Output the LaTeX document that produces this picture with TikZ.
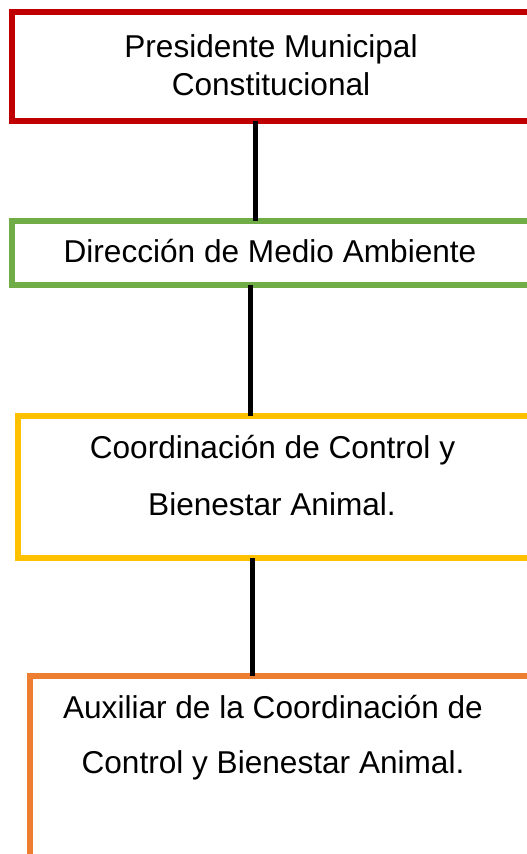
\documentclass[tikz,border=0pt]{standalone}
\usepackage{fontspec}
\setmainfont{Liberation Sans}
\definecolor{cred}{HTML}{C00000}
\definecolor{cgreen}{HTML}{70AD47}
\definecolor{cyellow}{HTML}{FFC000}
\definecolor{corange}{HTML}{ED7D31}
\begin{document}
\begin{tikzpicture}[x=1pt,y=-1pt,
  boxnode/.style={draw, rectangle, line width=6pt, fill=white, inner sep=0pt, outer sep=0pt},
  txt/.style={anchor=base, inner sep=0pt, font=\fontsize{31.6}{38}\selectfont},
  conn/.style={line width=5pt, black}]
\useasboundingbox (0,0) rectangle (527,854);
\clip (0,0) rectangle (527,854);
\fill[white] (0,0) rectangle (527,854);
% boxes
\node[boxnode, draw=cred, minimum width=523pt, minimum height=109pt] (pres) at (273.5,66.5) {};
\node[boxnode, draw=cgreen, minimum width=523pt, minimum height=64pt] (dir) at (273.5,253) {};
\node[boxnode, draw=cyellow, minimum width=517pt, minimum height=142pt] (coord) at (276.5,487) {};
\node[boxnode, draw=corange, minimum width=505pt, minimum height=220pt] (aux) at (282.5,786) {};
% texts
\node[txt] (p1) at (271,57) {Presidente Municipal};
\node[txt] (p2) at (271,95) {Constitucional};
\node[txt] (d1) at (270,262) {Dirección de Medio Ambiente};
\node[txt] (c1) at (272.5,458) {Coordinación de Control y};
\node[txt] (c2) at (272,515) {Bienestar Animal.};
\node[txt] (a1) at (273,718) {Auxiliar de la Coordinación de};
\node[txt] (a2) at (273,773) {Control y Bienestar Animal.};
% connectors
\draw[conn] (pres.south -| 255,0) -- (dir.north -| 255,0);
\draw[conn] (dir.south -| 250,0) -- (coord.north -| 250,0);
\draw[conn] (coord.south -| 252.5,0) -- (aux.north -| 252.5,0);
\end{tikzpicture}
\end{document}
